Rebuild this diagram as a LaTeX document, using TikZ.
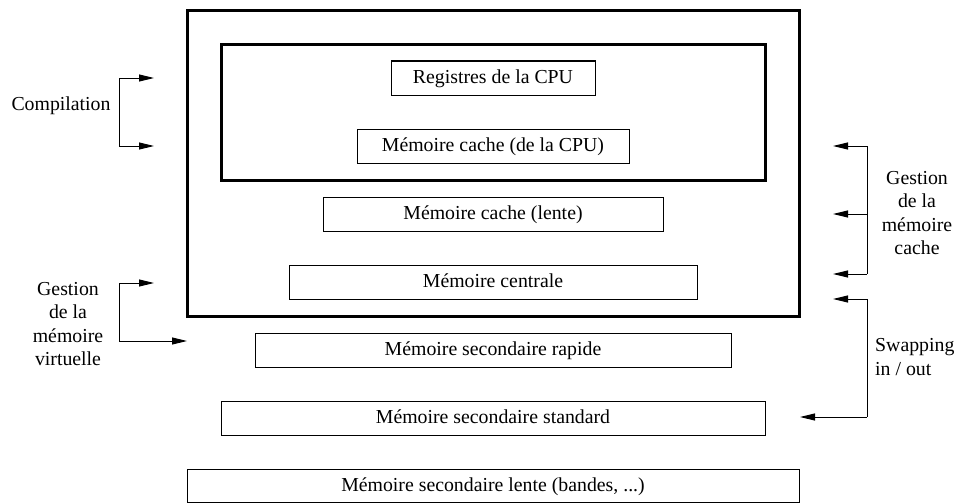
\documentclass[tikz,border=0pt]{standalone}
\usepackage{fontspec}
\setmainfont{Liberation Serif}
\usetikzlibrary{arrows.meta}

\begin{document}
\begin{tikzpicture}[x=1pt,y=-1pt,
  box/.style={draw, line width=1pt, inner sep=0pt, minimum height=34pt,
              text height=14pt, text depth=2.8pt},
  frame/.style={draw, line width=3pt},
  wire/.style={line width=1pt},
  link/.style={line width=1pt, -{Triangle[length=15pt,width=7pt]}},
  lab/.style={align=center, inner sep=0pt},
  font=\fontsize{19.8}{23.5}\selectfont]
\useasboundingbox (0,0) rectangle (960,503);

% memory levels, one step narrower on each side per level
\node[box, minimum width=204pt] (reg)   at (493,78)  {Registres de la CPU};
\node[box, minimum width=272pt] (ccpu)  at (493,146) {Mémoire cache (de la CPU)};
\node[box, minimum width=340pt] (clent) at (493,214) {Mémoire cache (lente)};
\node[box, minimum width=408pt] (cent)  at (493,282) {Mémoire centrale};
\node[box, minimum width=476pt] (srap)  at (493,350) {Mémoire secondaire rapide};
\node[box, minimum width=544pt] (sstd)  at (493,418) {Mémoire secondaire standard};
\node[box, minimum width=612pt, minimum height=33pt] (slent) at (493,485.5) {Mémoire secondaire lente (bandes, ...)};

% frames grouping the levels
\draw[frame] (187,11) rectangle (799,316);
\draw[frame] (221,45) rectangle (765,180);

% compilation
\node[lab] (comp) at (61,106) {Compilation};
\coordinate (ca) at (119,78);  \coordinate (cat) at (154,78);
\coordinate (cb) at (119,146); \coordinate (cbt) at (154,146);
\draw[wire] (ca) -- (cb);
\draw[link] (ca) -- (cat);
\draw[link] (cb) -- (cbt);

% virtual memory management
\node[lab] (virt) at (68,324) {Gestion\\de la\\mémoire\\virtuelle};
\coordinate (va) at (119,283); \coordinate (vat) at (154,283);
\coordinate (vb) at (119,341); \coordinate (vbt) at (187,341);
\draw[wire] (va) -- (vb);
\draw[link] (va) -- (vat);
\draw[link] (vb) -- (vbt);

% cache management
\node[lab] (cache) at (917,213) {Gestion\\de la\\mémoire\\cache};
\coordinate (ka) at (867,146); \coordinate (kat) at (833,146);
\coordinate (kb) at (867,214); \coordinate (kbt) at (833,214);
\coordinate (kc) at (867,274); \coordinate (kct) at (833,274);
\draw[wire] (ka) -- (kc);
\draw[link] (ka) -- (kat);
\draw[link] (kb) -- (kbt);
\draw[link] (kc) -- (kct);

% swapping
\node[lab, align=left, anchor=west] (swap) at (875,357) {Swapping\\in / out};
\coordinate (sa) at (867,299); \coordinate (sat) at (833,299);
\coordinate (sb) at (867,417); \coordinate (sbt) at (800,417);
\draw[wire] (sa) -- (sb);
\draw[link] (sa) -- (sat);
\draw[link] (sb) -- (sbt);
\end{tikzpicture}
\end{document}
